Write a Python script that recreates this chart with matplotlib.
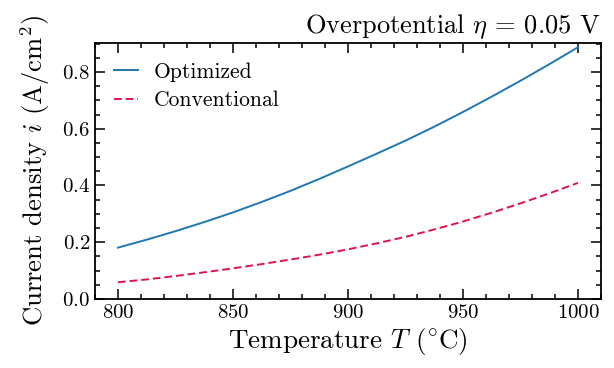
import matplotlib
matplotlib.use("Agg")
import matplotlib.pyplot as plt
from matplotlib.ticker import MultipleLocator

temperature = [800, 812.5, 825, 837.5, 850, 862.5, 875, 887.5, 900,
               912.5, 925, 937.5, 950, 962.5, 975, 987.5, 1000]
optimized = [0.181, 0.209, 0.239, 0.271, 0.305, 0.342, 0.381, 0.423, 0.467,
             0.512, 0.558, 0.607, 0.659, 0.713, 0.769, 0.827, 0.887]
conventional = [0.059, 0.069, 0.081, 0.094, 0.108, 0.123, 0.139, 0.156, 0.175,
                0.196, 0.219, 0.245, 0.273, 0.304, 0.337, 0.372, 0.409]

plt.rcParams.update({
    "font.family": "serif",
    "font.serif": ["cmr10"],
    "mathtext.fontset": "cm",
    "axes.formatter.use_mathtext": True,
    "axes.unicode_minus": False,
})

fig = plt.figure(figsize=(6.14, 3.68), dpi=100)
ax = fig.add_axes([0.1547, 0.1875, 0.9788 - 0.1547, 0.8832 - 0.1875])

ax.plot(temperature, optimized, color="#1f77b4", lw=1.4, label="Optimized")
ax.plot(temperature, conventional, color="#e0144c", lw=1.4, ls=(0, (4, 2)), label="Conventional")

ax.set_xlim(790, 1010)
ax.set_ylim(0, 0.902)
ax.xaxis.set_major_locator(MultipleLocator(50))
ax.xaxis.set_minor_locator(MultipleLocator(10))
ax.yaxis.set_major_locator(MultipleLocator(0.2))
ax.yaxis.set_minor_locator(MultipleLocator(0.05))
ax.tick_params(which="both", direction="in", top=True, right=True, width=1.1, labelsize=15)
ax.tick_params(which="major", length=7)
ax.tick_params(which="minor", length=3.5)
for s in ax.spines.values():
    s.set_linewidth(1.3)

ax.set_xlabel(r"Temperature $T$ ($^{\circ}$C)", fontsize=19.5, labelpad=3)
ax.set_ylabel(r"Current density $i$ (A/cm$^2$)", fontsize=19.2, labelpad=7)
ax.set_title(r"Overpotential $\eta$ = 0.05 V", loc="right", fontsize=19, pad=7)

ax.legend(loc="upper left", frameon=False, fontsize=15.5, handlelength=1.1,
          handletextpad=0.75, borderaxespad=0.5, labelspacing=0.42)

fig.savefig("out.png", dpi=100)
